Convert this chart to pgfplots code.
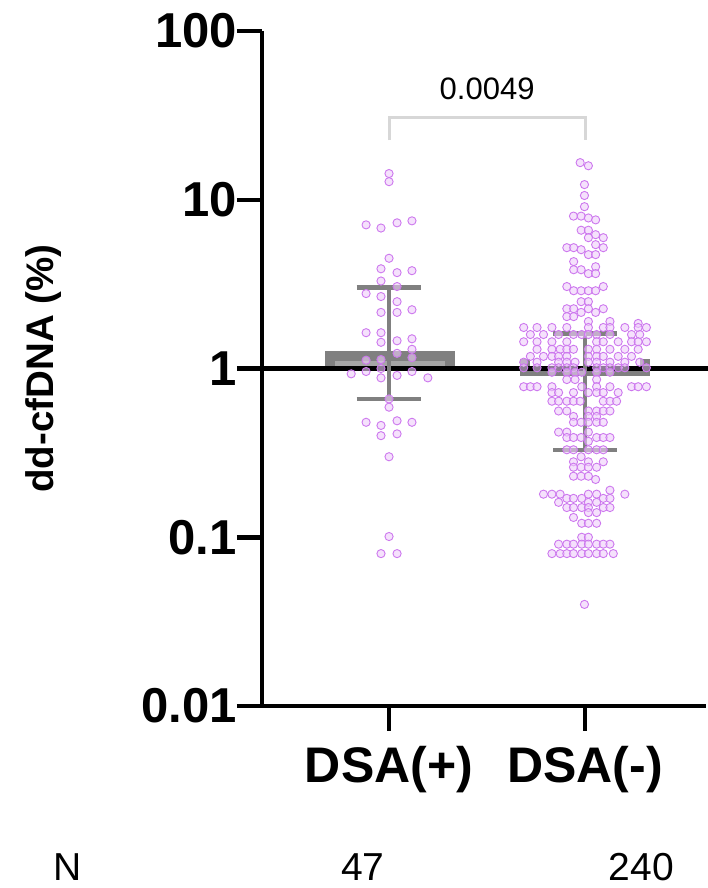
\documentclass[border=0pt]{standalone}
\usepackage{fontspec}
\setmainfont{Liberation Sans}
\usepackage{pgfplots}
\pgfplotsset{compat=1.18}
\definecolor{dotc}{RGB}{205,120,238}
\definecolor{dotf}{RGB}{238,205,250}
\definecolor{bard}{RGB}{128,128,128}
\definecolor{barf}{RGB}{166,166,166}
\definecolor{brk}{RGB}{215,215,215}
\begin{document}
\begin{tikzpicture}[x=1pt,y=1pt]
\path[use as bounding box] (0,0) rectangle (708,888);
\begin{axis}[
  at={(262pt,182pt)}, anchor=south west,
  scale only axis, width=444pt, height=675pt,
  ymode=log, ymin=0.01, ymax=100,
  xmin=-0.648, xmax=1.617,
  clip=false,
  axis x line=bottom, axis y line=left,
  axis line style={line width=4.5pt, -},
  tick align=outside,
  major tick length=25pt,
  major tick style={line width=4.5pt, black},
  yminorticks=false, xminorticks=false,
  ytick={0.01,0.1,1,10,100},
  yticklabels={0.01,0.1,1,10,100},
  xtick={0,1},
  xticklabels={DSA(+),DSA(-)},
  /pgf/number format/assume math mode=true,
  yticklabel style={font=\bfseries\fontsize{49}{49}\selectfont, inner sep=0pt},
  xticklabel style={font=\bfseries\fontsize{50}{50}\selectfont, inner sep=0pt, yshift=-15pt},
  ylabel={dd-cfDNA (\%)},
  ylabel style={font=\bfseries\fontsize{38.5}{38.5}\selectfont, at={(axis description cs:-0.491,0.5)}, anchor=center},
]
% median bars (drawn as GraphPad renders them)
\addplot[fill=bard, draw=none] coordinates {(-0.327,1) (0.337,1) (0.337,1.278) (-0.327,1.278)};
\addplot[fill=barf, draw=none] coordinates {(-0.276,1) (0.286,1) (0.286,1.115) (-0.276,1.115)};
\addplot[fill=bard, draw=none] coordinates {(0.668,0.897) (1.332,0.897) (1.332,1) (0.668,1)};
\addplot[fill=bard, draw=none] coordinates {(0.668,1) (0.719,1) (0.719,1.146) (0.668,1.146)};
\addplot[fill=bard, draw=none] coordinates {(1.281,1) (1.332,1) (1.332,1.146) (1.281,1.146)};
% reference line at 1
\addplot[black, line width=5.5pt] coordinates {(-0.648,1) (1.625,1)};
% IQR whiskers
\addplot[bard, line width=4.5pt] coordinates {(0,0.66) (0,3.01)};
\addplot[bard, line width=4.5pt] coordinates {(-0.165,3.01) (0.165,3.01)};
\addplot[bard, line width=4.5pt] coordinates {(-0.165,0.66) (0.165,0.66)};
\addplot[bard, line width=4.5pt] coordinates {(1,0.33) (1,1.61)};
\addplot[bard, line width=4.5pt] coordinates {(0.837,1.61) (1.163,1.61)};
\addplot[bard, line width=4.5pt] coordinates {(0.837,0.33) (1.163,0.33)};
% significance bracket
\addplot[brk, line width=3pt] coordinates {(0,22.6) (0,30.6) (1,30.6) (1,22.6)};
% DSA(+) points
\addplot[only marks, mark=*, mark size=4.1pt, mark options={draw=dotc, fill=dotf, fill opacity=0.6, line width=0.9pt}] coordinates {
(0,14.3) (0,12.8) (-0.117,7.1) (-0.041,6.8) (0.041,7.3) (0.117,7.5)
(0,4.5) (-0.041,3.9) (0.041,3.7) (0.117,3.8) (-0.041,3.3) (0.041,3.06)
(-0.117,2.78) (-0.041,2.67) (0.041,2.49) (0.117,2.23) (-0.041,2.15) (0.041,2.15)
(-0.117,1.63) (-0.041,1.63) (-0.041,1.43) (0.041,1.46) (0.117,1.50) (0.117,1.30)
(0.041,1.23) (0.117,1.16) (-0.117,1.12) (-0.041,1.13) (-0.193,0.93) (-0.117,0.96)
(-0.041,1.0) (0.117,0.96) (0.198,0.88) (-0.041,0.88) (0.041,0.91) (0,0.66)
(0,0.59) (-0.117,0.48) (-0.041,0.46) (0.041,0.49) (0.117,0.48) (-0.041,0.40)
(0.041,0.41) (0,0.30) (0,0.101) (-0.041,0.080) (0.041,0.080)
};
% DSA(-) points
\addplot[only marks, mark=*, mark size=4.1pt, mark options={draw=dotc, fill=dotf, fill opacity=0.6, line width=0.9pt}] coordinates {
(0.975,16.6) (1.017,15.9) (0.997,12.3) (0.997,10.6) (0.997,9.1)
(0.941,8.0) (0.980,8.0) (1.017,7.8) (1.054,7.6)
(0.980,6.6) (1.017,6.6) (1.054,6.21) (1.017,5.96) (1.093,5.96) (1.054,5.42)
(0.907,5.20) (0.942,5.20) (1.093,5.20) (0.980,5.06) (1.017,4.73) (1.054,4.73)
(0.942,4.30) (1.054,4.01) (0.942,3.85) (0.980,3.85) (1.017,3.65) (1.054,3.65)
(0.907,3.06) (1.093,3.06) (0.942,2.89) (0.980,2.89) (1.017,2.89) (1.054,2.89)
(0.980,2.49) (1.017,2.49) (0.907,2.26) (0.942,2.26) (1.017,2.26) (1.093,2.26)
(0.980,2.15) (1.054,2.15) (0.907,2.03) (0.942,2.03)
(1.017,1.90) (1.127,1.90) (1.271,1.85)
(0.687,1.75) (0.755,1.75) (0.831,1.75) (0.907,1.75) (1.017,1.75) (1.093,1.75) (1.127,1.75) (1.203,1.75) (1.271,1.75) (1.313,1.75)
(0.721,1.59) (0.788,1.59) (0.865,1.59) (0.941,1.59) (0.983,1.59) (1.017,1.59) (1.059,1.59) (1.127,1.59) (1.237,1.59) (1.279,1.59)
(0.687,1.44) (0.755,1.44) (0.831,1.44) (0.907,1.44) (1.059,1.44) (1.093,1.44) (1.169,1.44) (1.237,1.44) (1.271,1.44) (1.313,1.44)
(0.755,1.30) (0.831,1.30) (0.873,1.30) (0.907,1.30) (0.941,1.30) (1.017,1.30) (1.059,1.30) (1.127,1.30) (1.203,1.30) (1.271,1.30)
(0.721,1.18) (0.788,1.18) (0.831,1.18) (0.865,1.18) (0.907,1.18) (1.017,1.18) (1.059,1.18) (1.093,1.18) (1.169,1.18) (1.237,1.18)
(0.687,1.09) (0.755,1.09) (0.865,1.09) (0.907,1.09) (0.949,1.09) (1.017,1.09) (1.059,1.09) (1.127,1.09) (1.203,1.09) (1.279,1.09)
(0.687,1.01) (0.755,1.01) (0.831,1.01) (0.865,1.01) (0.907,1.01) (0.941,1.01) (1.059,1.01) (1.093,1.01) (1.127,1.01) (1.169,1.01) (1.203,1.01) (1.313,1.01)
(0.831,0.95) (0.907,0.95) (0.949,0.95) (0.983,0.95) (1.059,0.95) (1.127,0.95)
(0.907,0.86) (0.949,0.86) (1.059,0.86)
(0.687,0.78) (0.721,0.78) (0.755,0.78) (0.831,0.78) (0.983,0.78) (1.059,0.78) (1.127,0.78) (1.237,0.78) (1.271,0.78) (1.313,0.78)
(0.831,0.72) (0.865,0.72) (0.941,0.72) (1.017,0.72) (1.059,0.72) (1.093,0.72) (1.169,0.72)
(0.831,0.64) (0.865,0.64) (0.907,0.64) (0.941,0.64) (0.975,0.64) (1.093,0.64) (1.127,0.64) (1.161,0.64)
(0.865,0.56) (0.907,0.56) (1.017,0.56) (1.059,0.56) (1.093,0.56) (1.127,0.56)
(0.941,0.52) (1.017,0.52) (1.059,0.52)
(0.941,0.48) (0.980,0.48) (1.017,0.48) (1.059,0.48) (1.093,0.48)
(0.865,0.42) (0.907,0.42) (1.017,0.42)
(0.907,0.39) (0.941,0.39) (0.980,0.39) (1.059,0.39) (1.093,0.39) (1.127,0.39)
(1.017,0.37)
(0.907,0.33) (0.941,0.33) (1.017,0.33) (1.059,0.33) (1.093,0.33)
(0.980,0.30)
(0.941,0.28) (1.017,0.28) (1.093,0.28)
(0.941,0.26) (0.980,0.26) (1.017,0.26) (1.059,0.26)
(0.941,0.23) (0.980,0.23) (1.017,0.23)
(1.054,0.22) (1.127,0.19)
(0.788,0.18) (0.831,0.18) (0.873,0.18) (1.017,0.18) (1.059,0.18) (1.203,0.18)
(0.907,0.17) (0.941,0.17) (0.983,0.17) (1.093,0.17) (1.127,0.17)
(0.865,0.161) (1.017,0.161) (1.059,0.161)
(0.907,0.15) (0.941,0.15) (0.983,0.15) (1.017,0.15) (1.093,0.15) (1.127,0.15)
(1.017,0.14) (1.059,0.14)
(0.941,0.131)
(0.983,0.121) (1.017,0.121) (1.059,0.121)
(0.983,0.10) (1.017,0.10)
(0.865,0.091) (0.907,0.091) (0.941,0.091) (0.983,0.091) (1.017,0.091) (1.059,0.091) (1.093,0.091) (1.127,0.091)
(0.831,0.080) (0.873,0.080) (0.907,0.080) (0.941,0.080) (0.983,0.080) (1.017,0.080) (1.059,0.080) (1.093,0.080) (1.144,0.080)
(0.997,0.040)
};
% annotations
\node[font=\fontsize{31}{31}\selectfont, anchor=base, inner sep=0pt] at (axis description cs:0.507,0.899) {0.0049};
\node[font=\fontsize{39}{39}\selectfont, anchor=base, inner sep=0pt] at (axis description cs:-0.437,-0.259) {N};
\node[font=\fontsize{39}{39}\selectfont, anchor=base, inner sep=0pt] at (axis description cs:0.227,-0.259) {47};
\node[font=\fontsize{39}{39}\selectfont, anchor=base, inner sep=0pt] at (axis description cs:0.854,-0.259) {240};
\end{axis}
\end{tikzpicture}
\end{document}
